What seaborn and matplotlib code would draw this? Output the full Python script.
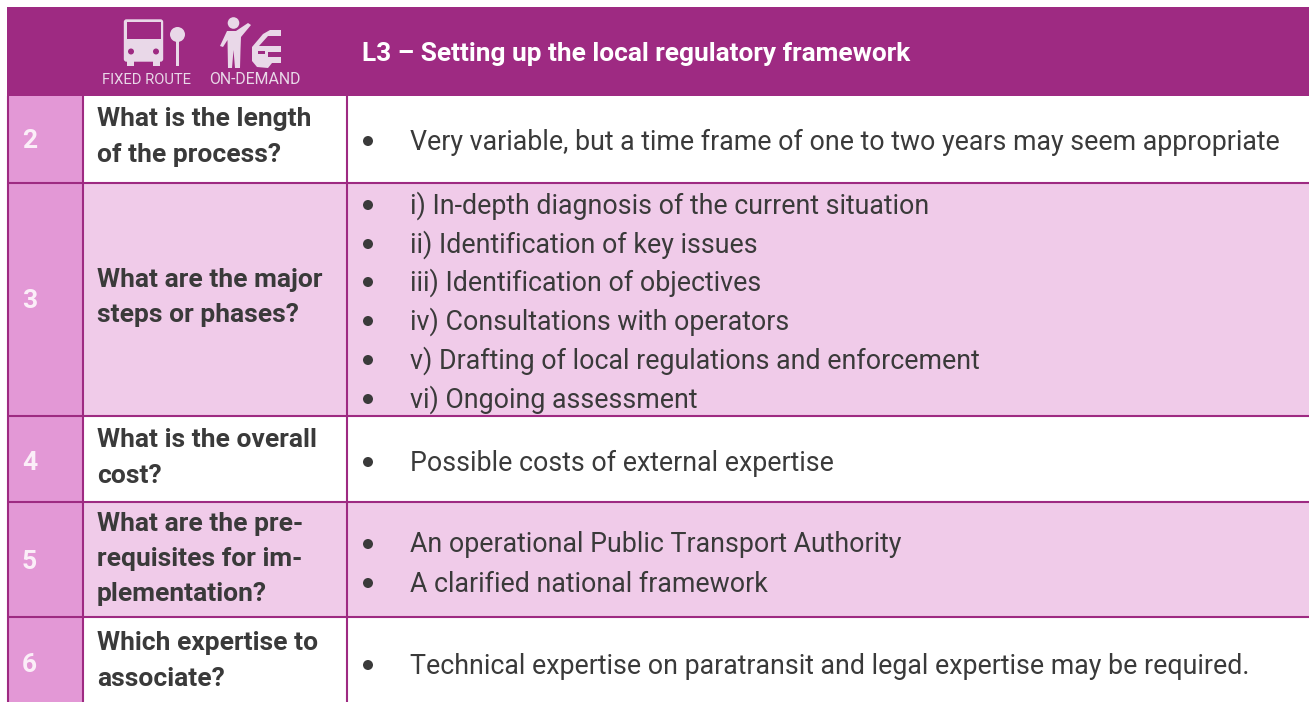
import seaborn as sns
import matplotlib.pyplot as plt
from matplotlib.patches import Rectangle, Circle, Polygon, FancyBboxPatch

sns.set_theme(style="white")
plt.rcParams['font.family'] = ['Roboto', 'DejaVu Sans']

title = "L3 – Setting up the local regulatory framework"
icon_labels = ["FIXED ROUTE", "ON-DEMAND"]
row_numbers = ["2", "3", "4", "5", "6"]
questions = [
    ["What is the length", "of the process?"],
    ["What are the major", "steps or phases?"],
    ["What is the overall", "cost?"],
    ["What are the pre-", "requisites for im-", "plementation?"],
    ["Which expertise to", "associate?"],
]
answers = [
    ["Very variable, but a time frame of one to two years may seem appropriate"],
    ["i) In-depth diagnosis of the current situation",
     "ii) Identification of key issues",
     "iii) Identification of objectives",
     "iv) Consultations with operators",
     "v) Drafting of local regulations and enforcement",
     "vi) Ongoing assessment"],
    ["Possible costs of external expertise"],
    ["An operational Public Transport Authority",
     "A clarified national framework"],
    ["Technical expertise on paratransit and legal expertise may be required."],
]

# layout in pixels of the 1309x702 picture
row_edges = [96, 183, 416, 502, 617, 702]
col_edges = [8, 83, 347, 1309]
question_y = [[119, 155], [280, 315], [440, 476], [524, 559, 594], [643, 679]]
answer_y = [[142], [206, 245, 283, 322, 361, 400], [463], [545, 584], [666]]
number_y = [141, 301, 463, 562, 665]

PURPLE = "#9e2a82"
NUMBER_BG = "#e398d6"
ROW_BG = "#f0cbe9"
ICON = "#e9d8e8"
DARK = "#3a3a3a"

fig = plt.figure(figsize=(13.09, 7.02), dpi=100)
ax = fig.add_axes([0, 0, 1, 1])
ax.set_xlim(0, 1309)
ax.set_ylim(702, 0)
ax.axis("off")

# header
ax.add_patch(Rectangle((7, 7), 1302, 89, fc=PURPLE, ec="none"))
ax.text(362, 54, title, color="white", fontsize=18.95, fontweight="bold", va="center")

# bus
ax.add_patch(FancyBboxPatch((124.5, 20), 38, 41, boxstyle="round,pad=0,rounding_size=2", fc=ICON, ec=ICON, lw=1))
ax.add_patch(Rectangle((126.5, 22), 34, 17, fc=PURPLE, ec="none"))
ax.add_patch(Circle((131, 51.5), 3, fc=PURPLE, ec="none"))
ax.add_patch(Circle((156, 51.5), 3, fc=PURPLE, ec="none"))
ax.add_patch(Rectangle((127, 60), 7, 6, fc=ICON, ec="none"))
ax.add_patch(Rectangle((153, 60), 7, 6, fc=ICON, ec="none"))
# stop
ax.add_patch(Circle((177.5, 34.5), 7.5, fc=ICON, ec="none"))
ax.add_patch(Rectangle((176, 36), 3, 30, fc=ICON, ec="none"))
# person
ax.add_patch(Circle((233.5, 23), 5.8, fc=ICON, ec="none"))
ax.add_patch(Polygon([(227, 31), (236, 31), (248, 23), (251, 25), (241, 37), (240.5, 50),
                      (240, 68), (235, 68), (233.5, 50), (232, 68), (228, 68), (227.5, 40),
                      (223, 47), (220, 46)], fc=ICON, ec="none"))
# car
ax.add_patch(Polygon([(281, 30), (270, 30), (263, 34), (252, 47), (252, 61), (257, 67), (268, 68),
                      (272, 63), (281, 63), (281, 57), (268, 57), (268, 52), (281, 52),
                      (281, 46), (259, 46), (268, 36), (281, 36)], fc=ICON, ec="none"))
ax.add_patch(Rectangle((258, 51), 7, 3, fc=PURPLE, ec="none"))
ax.text(146.5, 80, icon_labels[0], color=ICON, fontsize=10.6, ha="center", va="center")
ax.text(254.5, 80, icon_labels[1], color=ICON, fontsize=11.4, ha="center", va="center")

# rows
for i in range(len(row_numbers)):
    top, bottom = row_edges[i], row_edges[i + 1]
    ax.add_patch(Rectangle((col_edges[0], top), col_edges[1] - col_edges[0], bottom - top, fc=NUMBER_BG, ec="none"))
    if i % 2 == 1:
        ax.add_patch(Rectangle((col_edges[1], top), col_edges[3] - col_edges[1], bottom - top, fc=ROW_BG, ec="none"))
    ax.text(22, number_y[i], row_numbers[i], color="#fbeef8", fontsize=19, fontweight="bold", va="center")
    for line, y in zip(questions[i], question_y[i]):
        ax.text(97, y, line, color=DARK, fontsize=19, fontweight="bold", va="center")
    for line, y in zip(answers[i], answer_y[i]):
        ax.add_patch(Circle((368, y - 1), 5, fc=DARK, ec="none"))
        ax.text(410, y, line, color=DARK, fontsize=19.25, va="center")

# grid lines
for y in row_edges[1:-1]:
    ax.plot([col_edges[0], 1309], [y, y], color=PURPLE, lw=1.5, solid_capstyle="butt")
for x in col_edges[:-1]:
    ax.plot([x, x], [96, 702], color=PURPLE, lw=1.5, solid_capstyle="butt")

fig.savefig("out.png", dpi=100)
